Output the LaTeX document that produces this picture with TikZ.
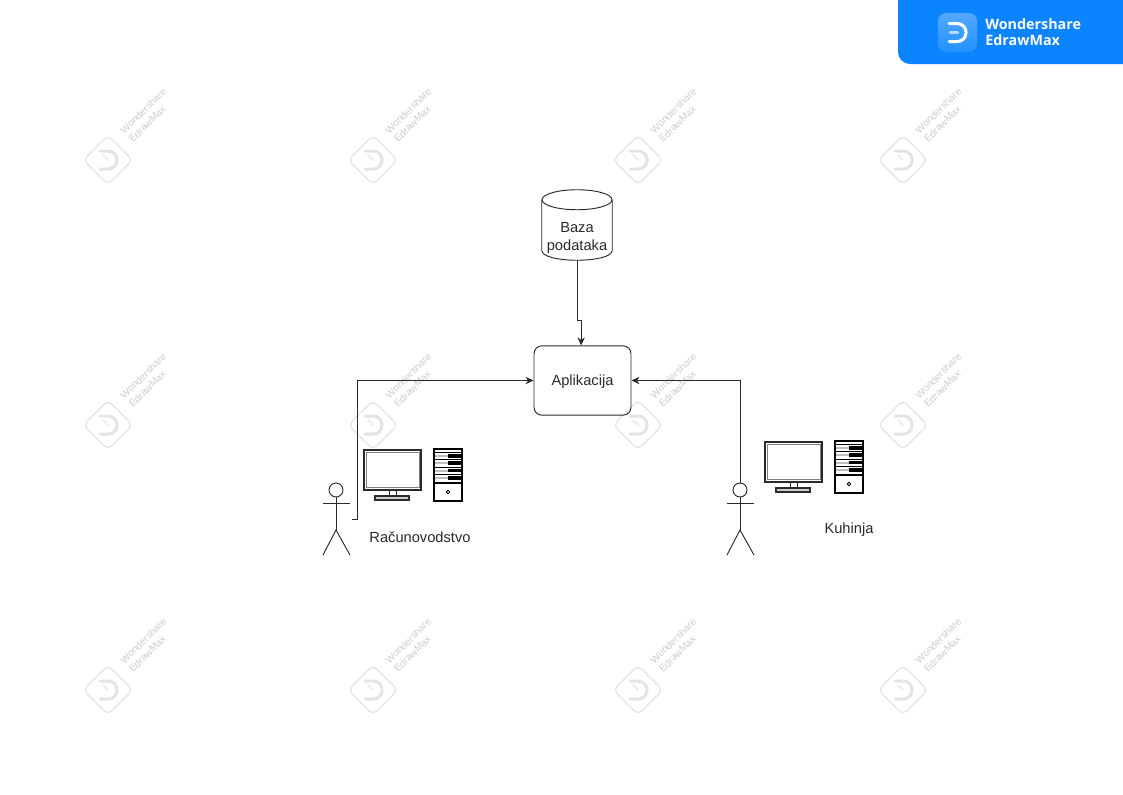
\documentclass[tikz,border=0pt]{standalone}
\usepackage{fontspec}
\setmainfont{Liberation Sans}
\newfontfamily\badgefont{Open Sans}
\usetikzlibrary{arrows.meta}
\definecolor{inkgray}{HTML}{2A2A2A}
\definecolor{markgray}{HTML}{E4E4E4}
\definecolor{badgeblue}{HTML}{0A84FF}
\tikzset{
    label text/.style={text=inkgray, font=\fontsize{11pt}{13pt}\selectfont, align=center, inner sep=0pt},
    link/.style={draw=inkgray, line width=.7pt, -{Stealth[length=6pt,width=5.5pt]}},
    actor line/.style={draw=inkgray, line width=.7pt},
    actor/.pic={
        \node[circle, draw=inkgray, line width=.7pt, minimum size=10.5pt, inner sep=0pt] (-head) at (0,-29) {};
        \coordinate (-hand) at (16,0);
        \draw[actor line] (-head) -- (0,11);
        \draw[actor line] (-13,-16) -- (14,-16);
        \draw[actor line] (-13,36) -- (0,11) -- (14,36);
    },
    workstation/.pic={
        % monitor
        \draw[draw=inkgray, line width=1.1pt] (0,0) rectangle (57,40);
        \draw[draw=gray, line width=.4pt] (2,2) rectangle (55,37);
        \draw[draw=inkgray, line width=.7pt] (25,40) rectangle (32,46);
        \draw[draw=inkgray, line width=.8pt, fill=gray!40] (11,46) rectangle (45,50);
        % tower
        \draw[draw=black, line width=1.3pt] (70,-1) rectangle (98,51);
        \foreach \i in {0,1,2,3} {
            \draw[draw=black, line width=.8pt] (70,{2.5+7.4*\i}) -- (98,{2.5+7.4*\i});
            \fill[black] (84,{4+7.4*\i}) rectangle (97,{7.5+7.4*\i});
            \fill[gray!50] (71,{4.8+7.4*\i}) rectangle (84,{6.8+7.4*\i});
        }
        \draw[draw=black, line width=.8pt] (70,33) -- (98,33);
        \draw[draw=black, line width=.6pt] (84,42) circle (1.8);
    },
    dmark/.pic={
        \draw[line width=2.25pt, line cap=round, rounded corners=6.5pt, draw=#1] (-8,-9) -- (9,-9) -- (9,9) -- (-8,9);
    },
    watermark/.pic={
        \draw[markgray, line width=.9pt, rounded corners=4pt, rotate=45] (-17.5,-17.5) rectangle (17.5,17.5);
        \begin{scope}[rotate=-45]
            \pic {dmark=markgray};
            \draw[markgray!70, line width=1.5pt, line cap=round] (-7,0) -- (0,0);
        \end{scope}
        \node[rotate=45, text=markgray!90!black, font=\fontsize{7.5pt}{9pt}\selectfont, align=left, inner sep=0pt] at (39.5,-45) {Wondershare\\EdrawMax};
    },
}
\begin{document}
\begin{tikzpicture}[x=.75pt, y=-.75pt]
    \useasboundingbox (0,0) rectangle (1123,794);
    \fill[white] (0,0) rectangle (1123,794);

    % background marks
    \foreach \i in {0,1,2,3} {
        \foreach \j in {0,1,2} {
            \pic at ({108+265*\i},{160+265*\j}) {watermark};
        }
    }

    % badge
    \fill[badgeblue, rounded corners=9pt] (898,-20) rectangle (1143,64);
    \shade[top color=badgeblue!70!white, bottom color=badgeblue!90!white, rounded corners=6pt] (938,13) rectangle (977,52);
    \pic at (957,32.5) {dmark=white};
    \draw[white!70!badgeblue, line width=2pt, line cap=round] (950,32.5) -- (958,32.5);
    \node[text=white, font=\badgefont\bfseries\fontsize{10.75pt}{12pt}\selectfont, align=left, inner sep=0pt, anchor=west] (brand) at (985,32.5) {Wondershare\\EdrawMax};

    % nodes
    \node[minimum width=52.5pt, minimum height=52.5pt, inner sep=0pt] (db) at (577,225) {};
    \draw[actor line] ([yshift=-7.5pt]db.north) ellipse (35 and 10);
    \draw[actor line] ([yshift=-7.5pt]db.north west) -- ([yshift=7.5pt]db.south west) .. controls +(0,13.3) and +(0,13.3) .. ([yshift=7.5pt]db.south east) -- ([yshift=-7.5pt]db.north east);
    \node[label text] (dbtext) at (577,238) {Baza\\podataka};
    \node[draw=inkgray, line width=.7pt, rounded corners=6pt, minimum width=72.75pt, minimum height=52pt, inner sep=0pt, label text, text height=8pt, text depth=1pt] (app) at (582.5,380.5) {Aplikacija};

    \pic (acct) at (336,519) {actor};
    \pic (kitchen) at (740,519) {actor};
    \pic at (364,450) {workstation};
    \pic at (765,442) {workstation};
    \node[label text] (accttext) at (420,537) {Računovodstvo};
    \node[label text] (kitchentext) at (849,529.5) {Kuhinja};

    % connectors
    \coordinate (bend) at (577,320);
    \draw[link] (db.south) -- (bend) -| ([xshift=-1pt]app.north);
    \draw[link] (acct-hand) -- ++(5,0) |- (app.west);
    \draw[link] (kitchen-head.north) |- (app.east);
\end{tikzpicture}
\end{document}
